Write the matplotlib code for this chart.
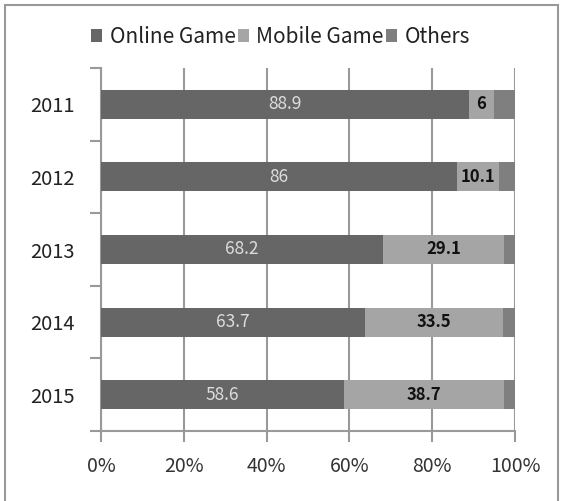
import matplotlib.pyplot as plt
from matplotlib.patches import Rectangle

years = ["2011", "2012", "2013", "2014", "2015"]
online = [88.9, 86, 68.2, 63.7, 58.6]
mobile = [6, 10.1, 29.1, 33.5, 38.7]
others = [5.1, 3.9, 2.7, 2.8, 2.7]
xticks = [0, 20, 40, 60, 80, 100]

plt.rcParams['font.family'] = ['Noto Sans CJK KR', 'DejaVu Sans']

fig = plt.figure(figsize=(5.61, 5.01), dpi=100)
ax = fig.add_axes([101/561, 1 - 431/501, 414/561, 363/501])

grid_c = '#999999'
pos = list(range(len(years)))
h = 0.4
b1 = ax.barh(pos, online, height=h, color='#666666', label='Online Game', zorder=3)
b2 = ax.barh(pos, mobile, left=online, height=h, color='#a5a5a5', label='Mobile Game', zorder=3)
left3 = [a + b for a, b in zip(online, mobile)]
b3 = ax.barh(pos, others, left=left3, height=h, color='#7f7f7f', label='Others', zorder=3)

# value labels: online in light grey, mobile in dark semi-bold
for i in pos:
    ax.text(online[i] / 2, i, f"{online[i]:g}", ha='center', va='center',
            color='#dddddd', fontsize=12.5, zorder=4)
    ax.text(online[i] + mobile[i] / 2, i, f"{mobile[i]:g}", ha='center', va='center',
            color='#111111', fontsize=12, fontweight='bold', zorder=4)

ax.set_xlim(0, 100)
ax.set_ylim(4.5, -0.5)
ax.set_xticks(xticks)
ax.set_xticklabels([f"{t}%" for t in xticks], fontsize=14, color='#333333')
ax.set_yticks([p - 0.5 for p in pos] + [4.5])
ax.set_yticklabels([])
ax.set_yticks(pos, minor=True)
ax.set_yticklabels(years, minor=True, fontsize=14.5, color='#222222')
ax.tick_params(axis='y', which='minor', length=0, pad=19)
ax.tick_params(axis='y', which='major', length=8, width=1.5, color=grid_c)
ax.tick_params(axis='x', length=8, width=1.5, color=grid_c, pad=10)

ax.grid(axis='x', color=grid_c, linewidth=1.5, zorder=0)
for s in ['top', 'right']:
    ax.spines[s].set_visible(False)
for s in ['left', 'bottom']:
    ax.spines[s].set_color(grid_c)
    ax.spines[s].set_linewidth(1.5)

leg = fig.legend(handles=[b1, b2, b3], loc='center', bbox_to_anchor=(0.5, 1 - 37/501),
                 ncol=3, frameon=False, fontsize=15, handlelength=0.55, handleheight=0.55,
                 handletextpad=0.35, columnspacing=0.1, labelcolor='#222222')

# outer border of the chart area
fig.patches.append(Rectangle((5/561, -0.01), 553/561, 1 - 5/501 + 0.01,
                             transform=fig.transFigure, fill=False,
                             edgecolor='#999999', linewidth=1.5))

fig.savefig('out.png', dpi=100)
